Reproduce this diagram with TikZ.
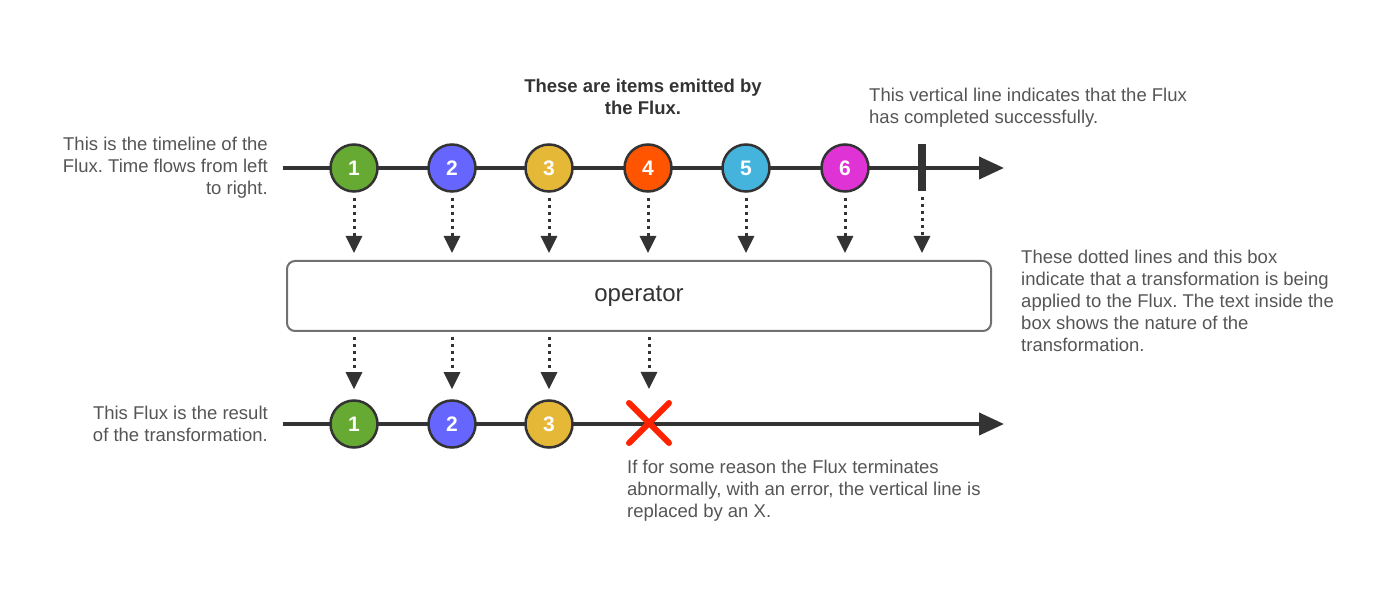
\documentclass[tikz,border=0pt]{standalone}
\usepackage{fontspec}
\setmainfont{Liberation Sans}
\usepackage{tikz}
\usetikzlibrary{arrows.meta,positioning,shapes.misc}
\frenchspacing

\definecolor{linegray}{HTML}{333333}
\definecolor{boxgray}{HTML}{707070}
\definecolor{textgray}{HTML}{555555}
\definecolor{itemgreen}{HTML}{66AA33}
\definecolor{itemblue}{HTML}{6666FF}
\definecolor{itemgold}{HTML}{E6B838}
\definecolor{itemorange}{HTML}{FF5500}
\definecolor{itemsky}{HTML}{44B4DD}
\definecolor{itempink}{HTML}{E033D6}
\definecolor{errred}{HTML}{FF2200}

\begin{document}
\begin{tikzpicture}[x=1pt, y=1pt,
    item/.style={circle, draw=linegray, line width=2.5pt, minimum size=47pt, inner sep=0pt,
      text=white, font=\fontsize{21}{21}\selectfont\bfseries},
    timeline/.style={draw=linegray, line width=4pt, -{Triangle[length=25pt, width=22pt]}},
    flow/.style={draw=linegray, line width=3pt, dash pattern=on 3pt off 4pt,
      -{Triangle[length=17pt, width=16pt]}, shorten <=5pt},
    donebar/.style={rectangle, fill=linegray, minimum width=8pt, minimum height=47pt, inner sep=0pt},
    opbox/.style={rectangle, draw=boxgray, line width=2pt, rounded corners=8pt, fill=white,
      minimum width=704pt, minimum height=70pt, font=\fontsize{24}{24}\selectfont, text=linegray},
    errmark/.style={cross out, draw=errred, line width=6pt, line cap=round, minimum size=34pt, inner sep=0pt},
    note/.style={text=textgray, font=\fontsize{18.5}{22}\selectfont, inner sep=0pt}]

   \useasboundingbox (0,0) rectangle (1391,589);

   % top timeline
   \coordinate (topstart) at (283,421);
   \coordinate (topend) at (1004,421);
   \draw[timeline] (topstart) -- (topend);

   \node[item, fill=itemgreen]  (t1) at (354,421) {1};
   \node[item, fill=itemblue]   (t2) at (452,421) {2};
   \node[item, fill=itemgold]   (t3) at (549,421) {3};
   \node[item, fill=itemorange] (t4) at (648,421) {4};
   \node[item, fill=itemsky]    (t5) at (746,421) {5};
   \node[item, fill=itempink]   (t6) at (845,421) {6};
   \node[donebar] (done) at (922,421) {};

   % operator box
   \node[opbox] (op) at (639,293) {operator};

   \draw[flow, shorten >=7pt] (t1) -- (t1 |- op.north);
   \draw[flow, shorten >=7pt] (t2) -- (t2 |- op.north);
   \draw[flow, shorten >=7pt] (t3) -- (t3 |- op.north);
   \draw[flow, shorten >=7pt] (t4) -- (t4 |- op.north);
   \draw[flow, shorten >=7pt] (t5) -- (t5 |- op.north);
   \draw[flow, shorten >=7pt] (t6) -- (t6 |- op.north);
   \draw[flow, shorten >=7pt] (done) -- (done |- op.north);

   % bottom timeline
   \coordinate (botstart) at (283,165);
   \coordinate (botend) at (1004,165);
   \draw[timeline] (botstart) -- (botend);

   \node[item, fill=itemgreen] (b1) at (354,165) {1};
   \node[item, fill=itemblue]  (b2) at (452,165) {2};
   \node[item, fill=itemgold]  (b3) at (549,165) {3};
   \node[errmark] (err) at (649,166) {};

   \draw[flow, shorten >=10pt] (op.south -| b1) -- (b1);
   \draw[flow, shorten >=10pt] (op.south -| b2) -- (b2);
   \draw[flow, shorten >=10pt] (op.south -| b3) -- (b3);
   \draw[flow, shorten >=14pt] (op.south -| err) -- (err);

   % notes
   \node[note, anchor=north, align=center, text=linegray, font=\fontsize{18.5}{22}\selectfont\bfseries]
     (itemsnote) at (643,510) {These are items emitted by\\the Flux.};
   \node[note, anchor=north east, align=right] (timelinenote) at (268,452)
     {This is the timeline of the\\Flux. Time flows from left\\to right.};
   \node[note, anchor=north west, align=left] (donenote) at (869,501)
     {This vertical line indicates that the Flux\\has completed successfully.};
   \node[note, anchor=north west, align=left] (opnote) at (1021,339)
     {These dotted lines and this box\\indicate that a transformation is being\\applied to the Flux. The text inside the\\box shows the nature of the\\transformation.};
   \node[note, anchor=north east, align=right] (resultnote) at (268,183)
     {This Flux is the result\\of the transformation.};
   \node[note, anchor=north west, align=left] (errnote) at (627,129)
     {If for some reason the Flux terminates\\abnormally, with an error, the vertical line is\\replaced by an X.};
\end{tikzpicture}
\end{document}
